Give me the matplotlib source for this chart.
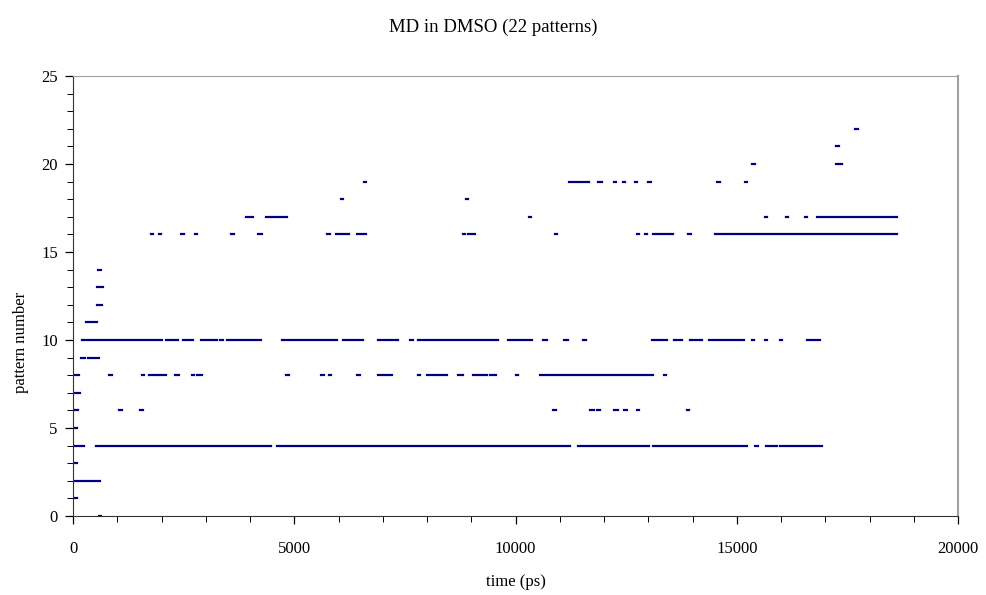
import numpy as np
import matplotlib
matplotlib.use("Agg")
import matplotlib.pyplot as plt
from matplotlib.ticker import MultipleLocator

# occupied time intervals (ps) for each pattern number
p0 = [(590, 640)]
p1 = [(10, 90)]
p2 = [(0, 610)]
p3 = [(10, 90)]
p4 = [(0, 250), (520, 4480), (4620, 11230), (11400, 13020), (13100, 15240),
      (15420, 15480), (15650, 15900), (15980, 16930)]
p5 = [(10, 100)]
p6 = [(10, 110), (1030, 1110), (1510, 1580), (10850, 10910), (11690, 11770),
      (11850, 11910), (12220, 12320), (12440, 12520), (12740, 12800), (13870, 13930)]
p7 = [(10, 150)]
p8 = [(10, 130), (810, 880), (1550, 1600), (1720, 1850), (1900, 2100), (2300, 2400),
      (2680, 2740), (2800, 2920), (4820, 4870), (5610, 5660), (5790, 5840),
      (6420, 6490), (6890, 7210), (7800, 7850), (8000, 8450), (8700, 8810),
      (9040, 9360), (9420, 9560), (10010, 10060), (10550, 13110), (13360, 13410)]
p9 = [(180, 280), (330, 590)]
p10 = [(200, 2010), (2100, 2370), (2490, 2710), (2890, 3250), (3320, 3390),
       (3480, 4250), (4720, 5970), (6100, 6550), (6890, 7350), (7620, 7680),
       (7800, 9610), (9830, 10370), (10620, 10710), (11100, 11190), (11530, 11590),
       (13090, 13420), (13580, 13760), (13940, 14210), (14370, 15160),
       (15350, 15390), (15640, 15680), (15980, 16020), (16590, 16880)]
p11 = [(290, 540)]
p12 = [(540, 650)]
p13 = [(540, 680)]
p14 = [(570, 640)]
p16 = [(1760, 1810), (1950, 1990), (2440, 2510), (2750, 2790), (3580, 3630),
       (4180, 4270), (5750, 5800), (5940, 6240), (6420, 6620), (8810, 8860),
       (8930, 9090), (10890, 10940), (12750, 12790), (12930, 12970), (13110, 13560),
       (13900, 13970), (14510, 14920), (14960, 18620)]
p17 = [(3910, 4070), (4360, 4840), (10310, 10360), (15640, 15690), (16110, 16160),
       (16540, 16590), (16810, 18620)]
p18 = [(6060, 6110), (8870, 8920)]
p19 = [(6580, 6630), (11210, 11660), (11860, 11950), (12230, 12280), (12420, 12470),
       (12700, 12750), (13000, 13050), (14560, 14610), (15190, 15240)]
p20 = [(15350, 15400), (17230, 17370)]
p21 = [(17250, 17300)]
p22 = [(17680, 17730)]

patterns = [0, 1, 2, 3, 4, 5, 6, 7, 8, 9, 10, 11, 12, 13, 14, 16, 17, 18, 19, 20, 21, 22]
intervals = [p0, p1, p2, p3, p4, p5, p6, p7, p8, p9, p10, p11, p12, p13, p14,
             p16, p17, p18, p19, p20, p21, p22]

plt.rcParams['font.family'] = ['Liberation Serif', 'DejaVu Serif']

fig = plt.figure(figsize=(9.87, 5.95), dpi=100)
ax = fig.add_axes([0.074, 0.1328, 0.8967, 0.7395])

navy = '#000080'
for p, segs in zip(patterns, intervals):
    segs = np.array(segs)
    ax.hlines(np.full(len(segs), p), segs[:, 0], segs[:, 1], color=navy,
              linewidth=1.6, capstyle='projecting')

ax.set_xlim(0, 20000)
ax.set_ylim(0, 25)
ax.xaxis.set_major_locator(MultipleLocator(5000))
ax.xaxis.set_minor_locator(MultipleLocator(1000))
ax.yaxis.set_major_locator(MultipleLocator(5))
ax.yaxis.set_minor_locator(MultipleLocator(1))
ax.tick_params(which='major', direction='out', length=6, width=0.9, labelsize=12)
ax.tick_params(which='minor', direction='out', length=4, width=0.7)
ax.tick_params(axis='x', which='major', pad=12)
ax.tick_params(axis='y', which='major', pad=5)

ax.spines['left'].set_color('#333333')
ax.spines['bottom'].set_color('#333333')
ax.spines['top'].set_color('#a0a0a0')
ax.spines['right'].set_color('#a0a0a0')
ax.spines['right'].set_linewidth(1.5)

ax.set_xlabel('time (ps)', fontsize=12, labelpad=12)
ax.set_ylabel('pattern number', fontsize=12)
ax.yaxis.set_label_coords(-0.05, 0.395)
fig.suptitle('MD in DMSO (22 patterns)', fontsize=13.5, y=0.968)

fig.savefig('out.png', dpi=100)
